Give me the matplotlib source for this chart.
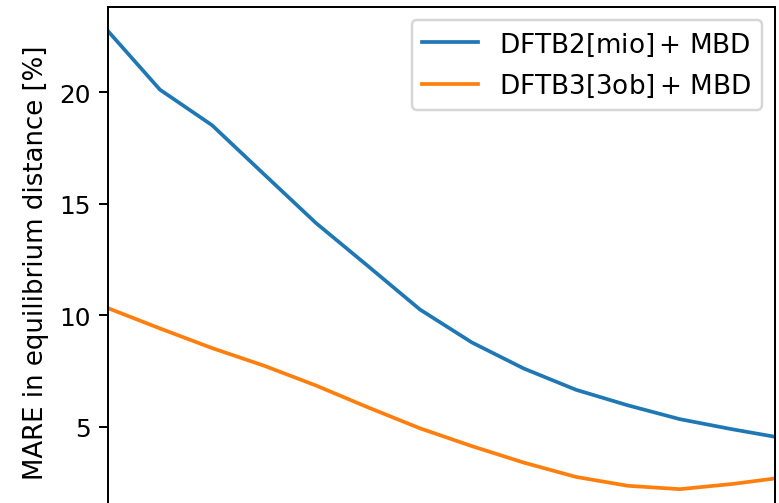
import numpy as np
import matplotlib
matplotlib.use("Agg")
from matplotlib import pyplot as plt

# damping-parameter grid (arbitrary units, evenly spaced)
x_vals = [0, 1, 2, 3, 4, 5, 6, 7, 8, 9, 10, 11, 12, 13]

# MARE in equilibrium distance [%]
mare_dftb2 = [22.75, 20.12, 18.53, 16.33, 14.14, 12.21, 10.26, 8.78, 7.61, 6.66, 5.96, 5.34, 4.89, 4.48]
mare_dftb3 = [10.32, 9.41, 8.53, 7.74, 6.85, 5.87, 4.93, 4.13, 3.39, 2.75, 2.35, 2.20, 2.43, 2.73]

labels = [r'DFTB2[mio]$\,$+ MBD', r'DFTB3[3ob]$\,$+ MBD']

dpi = 178
fig = plt.figure(figsize=(779 / dpi, 504 / dpi), dpi=dpi)
# the original panel is cut off at the bottom, so the axes reach below the figure
ax = fig.add_axes([108 / 779, -0.0256, 667 / 779, 1.0097])

ax.plot(x_vals, mare_dftb2, label=labels[0])
ax.plot(x_vals, mare_dftb3, label=labels[1])

ax.set_xlim(0, 12.83)
ax.set_ylim(1.0, 23.83)
ax.set_yticks([5, 10, 15, 20])
ax.tick_params(axis='x', bottom=False, labelbottom=False)
ax.set_ylabel('MARE in equilibrium distance [%]', fontsize=10.5)
ax.legend(loc='upper right', fontsize=10.6, handlelength=2.15, labelspacing=0.55)

fig.savefig('out.png', dpi=dpi)
